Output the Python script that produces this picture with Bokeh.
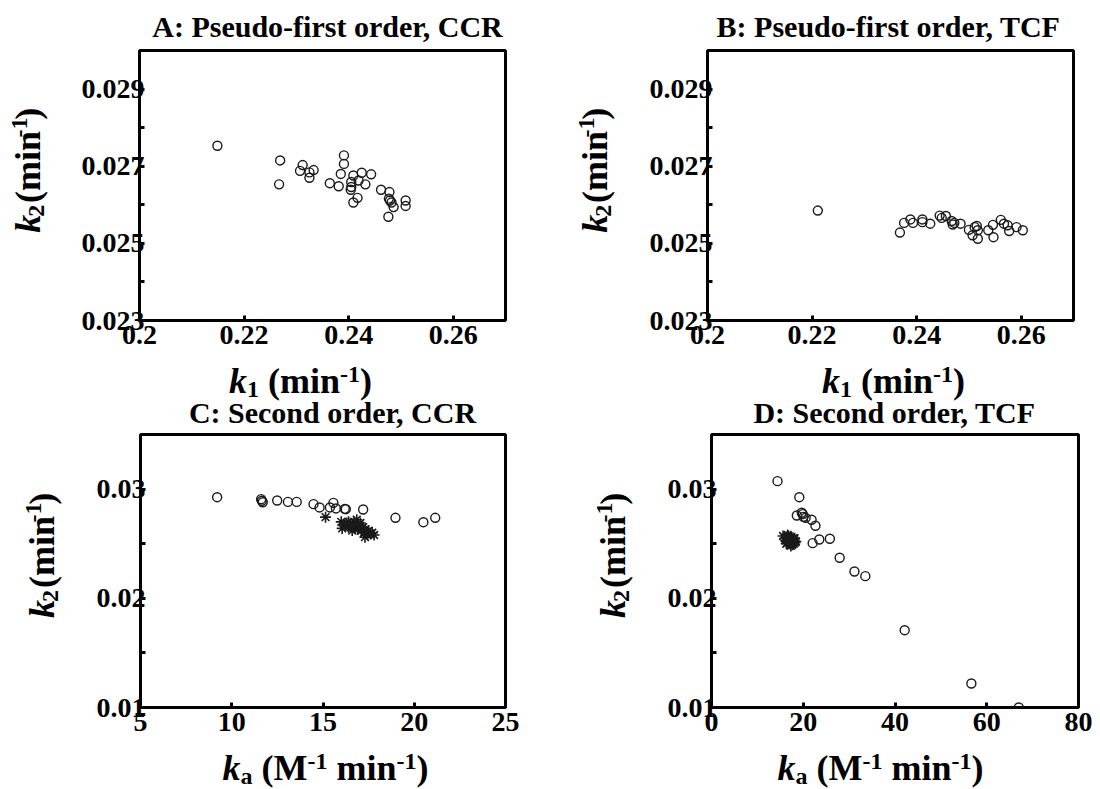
import math
from bokeh.plotting import figure
from bokeh.models import Range1d, FixedTicker, CustomJSTickFormatter, Label
from bokeh.layouts import column, row
from bokeh.embed import file_html
from bokeh.resources import INLINE

# ---------------- data ----------------
# A: Pseudo-first order, CCR
a_k1 = [0.2149, 0.2269, 0.2267, 0.2312, 0.2307, 0.2325, 0.2325, 0.2333, 0.2364, 0.2381,
        0.2385, 0.2391, 0.2391, 0.2405, 0.2405, 0.2404, 0.2409, 0.2419, 0.2417, 0.2409,
        0.2425, 0.2432, 0.2443, 0.2462, 0.2478, 0.2477, 0.2479, 0.2482, 0.2486, 0.2476,
        0.2509, 0.2509]
a_k2 = [0.02753, 0.02715, 0.02653, 0.02703, 0.02688, 0.02684, 0.02670, 0.02690, 0.02656, 0.02648,
        0.02680, 0.02728, 0.02706, 0.02659, 0.02646, 0.02639, 0.02676, 0.02663, 0.02618, 0.02606,
        0.02683, 0.02653, 0.02679, 0.02639, 0.02633, 0.02616, 0.02611, 0.02606, 0.02594, 0.02569,
        0.02611, 0.02597]

# B: Pseudo-first order, TCF
b_k1 = [0.2211, 0.2368, 0.2376, 0.2388, 0.2393, 0.2411, 0.2411, 0.2426, 0.2444, 0.2448,
        0.2456, 0.2467, 0.2469, 0.2472, 0.2484, 0.2500, 0.2507, 0.2511, 0.2515, 0.2517,
        0.2517, 0.2537, 0.2546, 0.2547, 0.2561, 0.2567, 0.2574, 0.2577, 0.2591, 0.2603]
b_k2 = [0.02585, 0.02528, 0.02553, 0.02562, 0.02553, 0.02562, 0.02555, 0.02551, 0.02572, 0.02566,
        0.02571, 0.02558, 0.02549, 0.02553, 0.02551, 0.02535, 0.02521, 0.02542, 0.02545, 0.02534,
        0.02512, 0.02534, 0.02548, 0.02516, 0.02561, 0.02551, 0.02547, 0.02532, 0.02542, 0.02534]

# C: Second order, CCR (open circles and asterisks)
c_ka_o = [9.20, 11.61, 11.65, 11.70, 12.49, 13.08, 13.56, 14.48, 14.81, 15.38,
          15.57, 15.71, 16.19, 16.25, 17.20, 18.97, 20.50, 21.15]
c_k2_o = [0.02926, 0.02908, 0.02893, 0.02880, 0.02896, 0.02883, 0.02883, 0.02862, 0.02832, 0.02832,
          0.02874, 0.02823, 0.02819, 0.02816, 0.02813, 0.02737, 0.02697, 0.02737]
c_ka_s = [15.14, 16.00, 16.05, 16.20, 16.30, 16.40, 16.50, 16.60, 16.70, 16.75,
          16.80, 16.85, 16.90, 17.00, 17.05, 17.10, 17.20, 17.25, 17.30, 17.40,
          17.45, 17.50, 17.60, 17.70, 17.80, 17.30, 16.60, 16.40]
c_k2_s = [0.02743, 0.02700, 0.02640, 0.02670, 0.02690, 0.02650, 0.02680, 0.02660, 0.02700, 0.02640,
          0.02670, 0.02720, 0.02630, 0.02660, 0.02690, 0.02620, 0.02650, 0.02600, 0.02630, 0.02610,
          0.02580, 0.02620, 0.02590, 0.02600, 0.02580, 0.02560, 0.02620, 0.02700]

# D: Second order, TCF
d_ka_o = [14.39, 19.14, 18.60, 19.67, 19.90, 20.06, 20.52, 21.82, 22.66, 22.05,
          23.50, 25.80, 27.94, 31.16, 33.53, 42.11, 56.65, 66.99]
d_k2_o = [0.03073, 0.02926, 0.02758, 0.02783, 0.02771, 0.02746, 0.02737, 0.02719, 0.02664, 0.02505,
          0.02538, 0.02545, 0.02371, 0.02245, 0.02203, 0.01708, 0.01220, 0.01000]
d_ka_s = [15.6, 16.0, 16.2, 16.4, 16.5, 16.7, 16.8, 16.9, 17.0, 17.1,
          17.2, 17.3, 17.4, 17.5, 17.6, 17.7, 17.8, 17.9, 18.0, 18.2,
          18.4, 16.6, 17.3, 18.1, 16.3]
d_k2_s = [0.0257, 0.0255, 0.0253, 0.0256, 0.0251, 0.0254, 0.0257, 0.0252, 0.0255, 0.0250,
          0.0253, 0.0256, 0.0251, 0.0254, 0.0249, 0.0252, 0.0255, 0.0250, 0.0253, 0.0251,
          0.0252, 0.0258, 0.0248, 0.0255, 0.0250]

# ticks
ab_xticks = [0.2, 0.22, 0.24, 0.26]
ab_yticks = [0.023, 0.025, 0.027, 0.029]
ab_yminor = [0.024, 0.026, 0.028]
c_xticks = [5, 10, 15, 20, 25]
d_xticks = [0, 20, 40, 60, 80]
cd_yticks = [0.01, 0.02, 0.03]
cd_yminor = [0.015, 0.025]

titles = ["A: Pseudo-first order, CCR", "B: Pseudo-first order, TCF",
          "C: Second order, CCR", "D: Second order, TCF"]

FONT = "Liberation Serif"
INK = "#1a1a1a"
MID = 0.31  # distance from baseline to text middle, in em

# ---------------- helpers ----------------
W_BOLD = {' ': 250, '(': 333, ')': 333, 'm': 833, 'i': 278, 'n': 556, '-': 333,
          '1': 500, '2': 500, 'M': 944, 'a': 500, 'k': 556}
W_BI = {'k': 500, 'a': 500}


def tw(s, size, italic):
    tbl = W_BI if italic else W_BOLD
    return sum(tbl.get(c, W_BOLD.get(c, 500)) for c in s) * size / 1000.0


class Strip:
    def __init__(self, L, T, W, H):
        self.L, self.T, self.W, self.H = L, T, W, H
        p = figure(width=W, height=H, output_backend="svg", toolbar_location=None,
                   x_range=Range1d(0, W), y_range=Range1d(0, H), min_border=0,
                   x_axis_location=None, y_axis_location=None, title=None)
        p.xgrid.visible = False
        p.ygrid.visible = False
        p.outline_line_color = None
        p.background_fill_color = "white"
        p.border_fill_color = "white"
        self.p = p

    def local(self, cx, cy):
        return cx - self.L, self.H - (cy - self.T)


def put(s_, text, size, italic, cx, cy, vertical):
    x, y = s_.local(cx, cy)
    s_.p.add_layout(Label(x=x, y=y, text=text, text_font=FONT,
                          text_font_style="bold italic" if italic else "bold",
                          text_font_size=f"{size}px", text_align="center",
                          text_baseline="middle", text_color="black",
                          text_line_height=1.0,
                          angle=math.pi / 2 if vertical else 0))


def add_rich(s_, runs, cx, cy, vertical=False):
    # horizontal: cx = centre, cy = baseline ; vertical: cx = baseline, cy = centre
    total = sum(tw(t, s, it) for t, s, it, sh in runs)
    pos = (cy + total / 2.0) if vertical else (cx - total / 2.0)
    for t, s, it, sh in runs:
        lead = len(t) - len(t.lstrip(' '))
        core = t.lstrip(' ')
        lw = tw(' ' * lead, s, False)
        cw = tw(core, s, it)
        if vertical:
            pos -= lw
            mx, my = cx + sh - MID * s, pos - cw / 2.0
            pos -= cw
        else:
            pos += lw
            mx, my = pos + cw / 2.0, cy + sh - MID * s
            pos += cw
        put(s_, core, s, it, mx, my, vertical)


def add_title(s_, text, cx, cy):
    put(s_, text, 30, False, cx, cy - MID * 30, False)


def make_fig(xr, yr, w, h, bl, br, bt, bb, xticks, yticks, yminor):
    p = figure(width=w, height=h, output_backend="svg", toolbar_location=None,
               x_range=Range1d(*xr), y_range=Range1d(*yr),
               min_border_left=bl, min_border_right=br, min_border_top=bt,
               min_border_bottom=bb, title=None)
    p.xgrid.visible = False
    p.ygrid.visible = False
    p.outline_line_color = "black"
    p.outline_line_width = 3
    p.background_fill_color = "white"
    p.border_fill_color = "white"
    p.xaxis.ticker = FixedTicker(ticks=xticks)
    p.yaxis.ticker = FixedTicker(ticks=yticks, minor_ticks=yminor)
    fmt = "return String(tick);"
    p.xaxis.formatter = CustomJSTickFormatter(code=fmt)
    p.yaxis.formatter = CustomJSTickFormatter(code=fmt)
    for ax in (p.xaxis[0], p.yaxis[0]):
        ax.axis_line_color = None
        ax.major_tick_in = 5
        ax.major_tick_out = 0
        ax.major_tick_line_width = 3
        ax.major_tick_line_color = "black"
        ax.minor_tick_in = 5
        ax.minor_tick_out = 0
        ax.minor_tick_line_width = 3
        ax.minor_tick_line_color = "black"
        ax.major_label_text_font = FONT
        ax.major_label_text_font_style = "bold"
        ax.major_label_text_font_size = "28px"
        ax.major_label_text_color = "black"
    p.xaxis[0].minor_tick_line_color = None
    p.xaxis[0].major_label_standoff = 5
    p.yaxis[0].major_label_standoff = -5
    return p


def circles(p, xs, ys):
    p.scatter(xs, ys, marker="circle", size=9, fill_color=None,
              line_color=INK, line_width=1.4)


def stars(p, xs, ys):
    p.scatter(xs, ys, marker="asterisk", size=11, line_color=INK, line_width=1.6)


# ---------------- plots ----------------
pa = make_fig((0.2, 0.27), (0.023, 0.030), 501, 314, 90, 45, 4, 40, ab_xticks, ab_yticks, ab_yminor)
pb = make_fig((0.2, 0.27), (0.023, 0.030), 483, 314, 90, 27, 4, 40, ab_xticks, ab_yticks, ab_yminor)
pc = make_fig((5, 25), (0.01, 0.035), 486, 317, 76, 45, 4, 40, c_xticks, cd_yticks, cd_yminor)
pd_ = make_fig((0, 80), (0.01, 0.035), 465, 317, 76, 22, 4, 40, d_xticks, cd_yticks, cd_yminor)

circles(pa, a_k1, a_k2)
circles(pb, b_k1, b_k2)
circles(pc, c_ka_o, c_k2_o)
stars(pc, c_ka_s, c_k2_s)
circles(pd_, d_ka_o, d_k2_o)
stars(pd_, d_ka_s, d_k2_s)

# ---------------- text strips ----------------
MS, SS, SUB = 36, 24, 4
SUP_H, SUP_V = -11, -13


def k_label(sub, sup):
    return [("k", MS, True, 0), (sub, SS, False, SUB), (" (min", MS, False, 0),
            ("-1", SS, False, sup), (")", MS, False, 0)]


def ka_label(sup):
    return [("k", MS, True, 0), ("a", SS, False, SUB), (" (M", MS, False, 0),
            ("-1", SS, False, sup), (" min", MS, False, 0), ("-1", SS, False, sup),
            (")", MS, False, 0)]


t_top = Strip(0, 0, 1100, 46)
t_mid = Strip(0, 360, 1100, 70)
t_bot = Strip(0, 747, 1100, 42)
y_a = Strip(0, 46, 49, 314)
y_b = Strip(550, 46, 67, 314)
y_c = Strip(0, 430, 64, 317)
y_d = Strip(550, 430, 85, 317)

add_title(t_top, titles[0], 327, 35)
add_title(t_top, titles[1], 888, 35)
add_title(t_mid, titles[2], 332, 421)
add_title(t_mid, titles[3], 894, 421)

add_rich(t_mid, k_label("1", SUP_H), 300, 392)
add_rich(t_mid, k_label("1", SUP_H), 893, 392)
add_rich(t_bot, ka_label(SUP_H), 325, 779)
add_rich(t_bot, ka_label(SUP_H), 880, 779)

add_rich(y_a, k_label("2", SUP_V), 39, 185, vertical=True)
add_rich(y_b, k_label("2", SUP_V), 606, 185, vertical=True)
add_rich(y_c, k_label("2", SUP_V), 53, 570, vertical=True)
add_rich(y_d, k_label("2", SUP_V), 624, 570, vertical=True)

layout = column(t_top.p,
                row(y_a.p, pa, y_b.p, pb),
                t_mid.p,
                row(y_c.p, pc, y_d.p, pd_),
                t_bot.p)
open("out.html", "w").write(file_html(layout, INLINE))
